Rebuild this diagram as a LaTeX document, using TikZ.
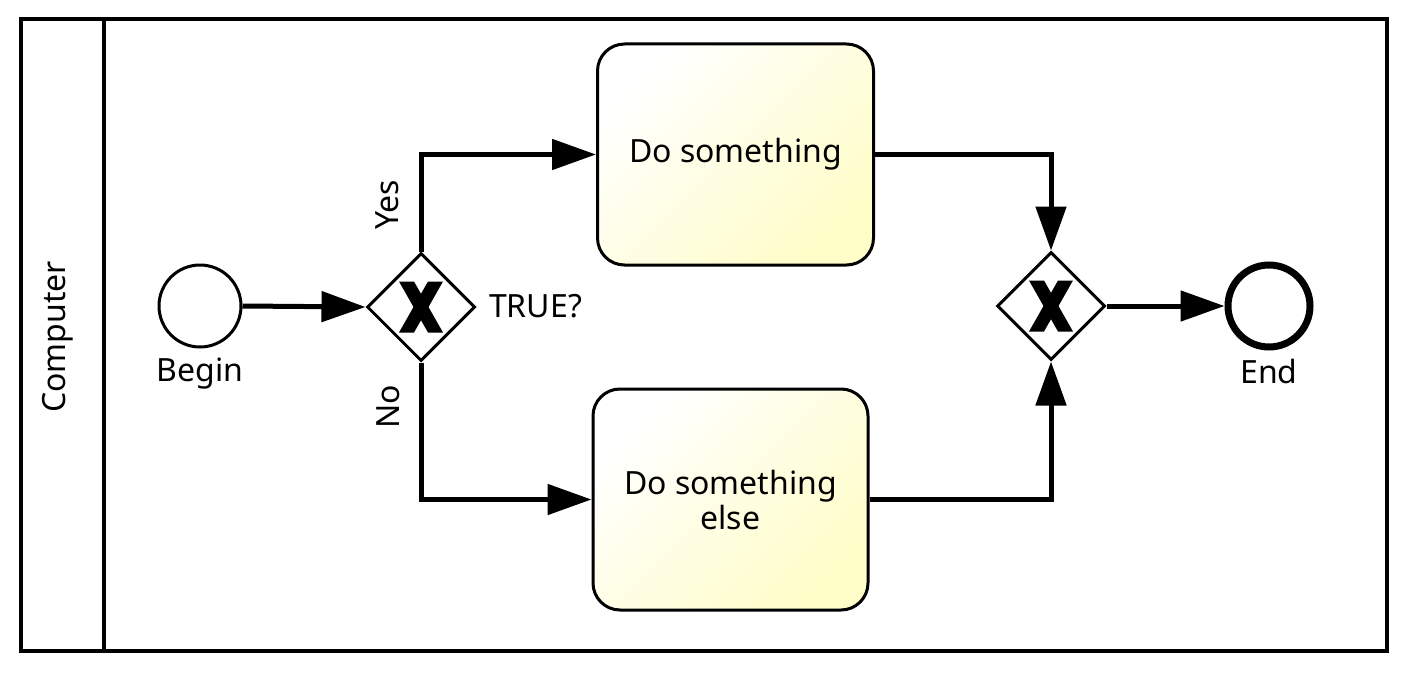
\documentclass[tikz,border=0pt]{standalone}
\usepackage{fontspec}
\setmainfont{Noto Sans}
\usetikzlibrary{shapes.geometric,arrows.meta,calc}
\definecolor{taskyellow}{RGB}{255,253,200}
\tikzset{
  flow/.style={line width=5pt,-{Triangle[length=44pt,width=30pt]}},
  task/.style={draw,line width=3pt,rounded corners=27pt,inner sep=0pt,
    shading=axis,top color=white,bottom color=taskyellow,shading angle=45,
    align=center,font=\lbl},
  gateway/.style={draw,diamond,line width=3pt,fill=white,inner sep=0pt,
    minimum width=108pt,minimum height=108pt},
  event/.style={draw,circle,line width=3pt,fill=white,inner sep=0pt,minimum size=82pt},
  label/.style={font=\lbl,inner sep=0pt}
}
\newcommand{\lbl}{\fontsize{32}{35}\selectfont}
\newcommand{\gwx}[1]{\fill[shift={(#1.center)}] (-22,-25.5) -- (-7,-25.5) -- (22,25.5) -- (7,25.5) -- cycle;
  \fill[shift={(#1.center)}] (22,-25.5) -- (7,-25.5) -- (-22,25.5) -- (-7,25.5) -- cycle;}
\begin{document}
\begin{tikzpicture}[x=1pt,y=-1pt]
\useasboundingbox (0,0) rectangle (1405,685);
\fill[white] (0,0) rectangle (1405,685);
\draw[line width=4pt] (21,19) rectangle (1387,651);
\coordinate (lt) at (104,19);
\coordinate (lb) at (104,651);
\draw[line width=4pt] (lt) -- (lb);
\node[label,rotate=90] (lane) at (58,337) {Computer};

\node[event] (begin) at (200,306) {};
\node[label] (beginlbl) at (200,374) {Begin};

\node[gateway] (g1) at (421,307) {};
\gwx{g1}
\node[label,anchor=west] (truelbl) at (489,306) {TRUE?};

\node[task,minimum width=276pt,minimum height=221pt] (b1) at (735.5,154.5) {Do something};
\node[task,minimum width=275pt,minimum height=221pt] (b2) at (730.5,499.5) {Do something\\else};

\node[gateway] (g2) at (1051,306) {};
\gwx{g2}

\node[event,line width=7pt] (end) at (1269,306) {};
\node[label] (endlbl) at (1269,371) {End};

\draw[flow] (begin.east) -- (g1.west);
\draw[flow] (g1.north) |- (b1.west);
\draw[flow] (g1.south) |- (b2.west);
\draw[flow] (b1.east) -| (g2.north);
\draw[flow] (b2.east) -| (g2.south);
\draw[flow] (g2.east) -- (end.west);

\node[label,rotate=90] (yes) at (387,205) {Yes};
\node[label,rotate=90] (no) at (388,407) {No};
\end{tikzpicture}
\end{document}
